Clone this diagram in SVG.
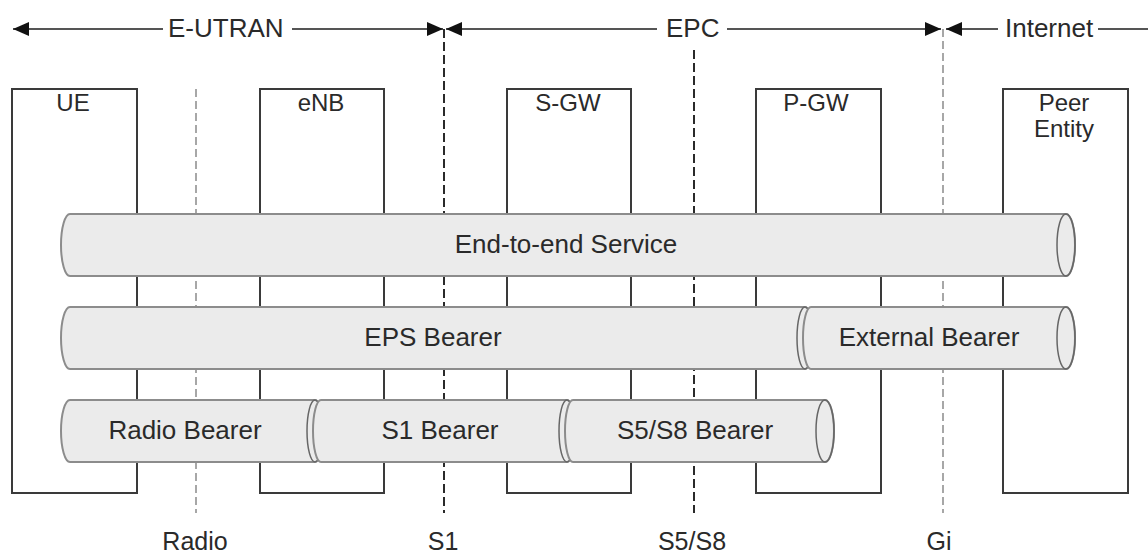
<svg xmlns="http://www.w3.org/2000/svg" width="1148" height="553" viewBox="0 0 1148 553">
<style>
text{font-family:"Liberation Sans",Arial,sans-serif;font-size:26px;fill:#2a2a2a}
.c{text-anchor:middle}
.bl{font-size:24px}
.box{fill:none;stroke:#3a3a3a;stroke-width:2}
.pipe{fill:#ebebeb;stroke:#8c8c8c;stroke-width:2}
.end{fill:none;stroke:#666;stroke-width:1.5}
.arr{fill:none;stroke:#555;stroke-width:2}
.dk{stroke:#2a2a2a;stroke-width:2;stroke-dasharray:9 4;fill:none}
.lt{stroke:#8a8a8a;stroke-width:1.5;stroke-dasharray:8 4;fill:none}
</style>
<defs>
<marker id="ah" viewBox="0 0 16 14" refX="16" refY="7" markerWidth="16" markerHeight="14" markerUnits="userSpaceOnUse" orient="auto">
<path d="M0,0 L16,7 L0,14 Z" fill="#111"/>
</marker>
</defs>
<rect width="1148" height="553" fill="#fff"/>

<g id="UE"><rect class="box" x="12" y="89" width="125" height="404"/><text class="c bl" x="73" y="111">UE</text></g>
<g id="eNB"><rect class="box" x="260" y="89" width="124" height="404"/><text class="c bl" x="321" y="111">eNB</text></g>
<g id="S-GW"><rect class="box" x="507" y="89" width="124" height="404"/><text class="c bl" x="568" y="111">S-GW</text></g>
<g id="P-GW"><rect class="box" x="756" y="89" width="125" height="404"/><text class="c bl" x="816" y="111">P-GW</text></g>
<g id="Peer"><rect class="box" x="1003" y="89" width="125" height="404"/><text class="c bl" x="1064" y="111">Peer</text><text class="c bl" x="1064" y="137">Entity</text></g>

<g id="connectors">
<path class="arr" d="M163,29 L13,29" marker-end="url(#ah)"/>
<path class="arr" d="M292,29 L443,29" marker-end="url(#ah)"/>
<path class="arr" d="M657,29 L446,29" marker-end="url(#ah)"/>
<path class="arr" d="M727,29 L941,29" marker-end="url(#ah)"/>
<path class="arr" d="M998,29 L946,29" marker-end="url(#ah)"/>
<path class="arr" d="M1098,29 L1148,29"/>
<path class="lt" d="M196,89 V513"/>
<path class="dk" d="M444,29 V513"/>
<path class="dk" d="M694,50 V513"/>
<path class="lt" d="M943,29 V513"/>
</g>

<g id="top-labels">
<text x="168" y="37">E-UTRAN</text>
<text x="666" y="37">EPC</text>
<text x="1005" y="37" fill="#444">Internet</text>
</g>

<g id="end-to-end">
<path class="pipe" d="M70,214 L1066,214 A9,31 0 0 1 1066,276 L70,276 A9,31 0 0 1 70,214 Z"/>
<ellipse class="end" cx="1066" cy="245" rx="9" ry="31"/>
<text class="c" x="566" y="253">End-to-end Service</text>
</g>

<g id="eps-bearer">
<path class="pipe" d="M70,307 L805,307 A8,31 0 0 1 805,369 L70,369 A9,31 0 0 1 70,307 Z"/>
<ellipse class="end" cx="805" cy="338" rx="8" ry="31"/>
<text class="c" x="433" y="346">EPS Bearer</text>
</g>

<g id="external-bearer">
<path class="pipe" d="M811,307 L1066,307 A9,31 0 0 1 1066,369 L811,369 A8,31 0 0 1 811,307 Z"/>
<ellipse class="end" cx="1066" cy="338" rx="9" ry="31"/>
<text class="c" x="929" y="346">External Bearer</text>
</g>

<g id="radio-bearer">
<path class="pipe" d="M70,400 L315,400 A8,31 0 0 1 315,462 L70,462 A9,31 0 0 1 70,400 Z"/>
<ellipse class="end" cx="315" cy="431" rx="8" ry="31"/>
<text class="c" x="185" y="439">Radio Bearer</text>
</g>

<g id="s1-bearer">
<path class="pipe" d="M321,400 L567,400 A8,31 0 0 1 567,462 L321,462 A8,31 0 0 1 321,400 Z"/>
<ellipse class="end" cx="567" cy="431" rx="8" ry="31"/>
<text class="c" x="440" y="439">S1 Bearer</text>
</g>

<g id="s5s8-bearer">
<path class="pipe" d="M573,400 L825,400 A9,31 0 0 1 825,462 L573,462 A8,31 0 0 1 573,400 Z"/>
<ellipse class="end" cx="825" cy="431" rx="9" ry="31"/>
<text class="c" x="695" y="439">S5/S8 Bearer</text>
</g>

<g id="bottom-labels">
<text class="c" x="195" y="550" style="font-size:25px">Radio</text>
<text class="c" x="443" y="550" style="font-size:25px">S1</text>
<text class="c" x="692" y="550" style="font-size:25px">S5/S8</text>
<text class="c" x="939" y="550" style="font-size:25px">Gi</text>
</g>
</svg>
